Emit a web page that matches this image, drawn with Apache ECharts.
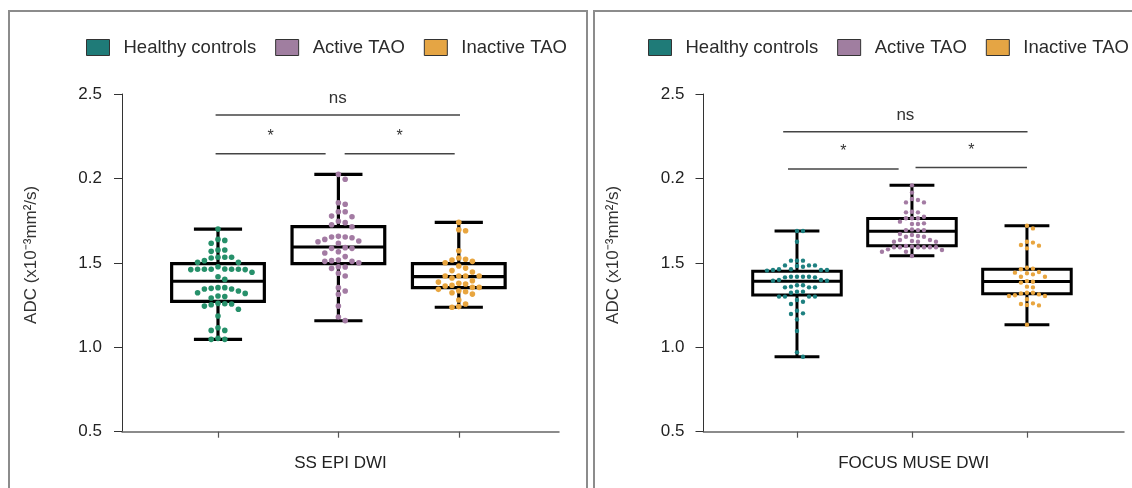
<!DOCTYPE html>
<html><head><meta charset="utf-8">
<script src="https://cdn.jsdelivr.net/npm/echarts@6/dist/echarts.min.js"></script>
<style>html,body{margin:0;padding:0;background:#fff}#c{width:1132px;height:488px}</style>
</head><body><div id="c"></div>
<script>
const FONT = 'Liberation Sans';
const groups = ['Healthy controls', 'Active TAO', 'Inactive TAO'];
const panelNames = ['SS EPI DWI', 'FOCUS MUSE DWI'];
const yTickLabels = ['0.5', '1.0', '1.5', '0.2', '2.5'];
const yAxisName = 'ADC (x10\u207B\u00B3mm\u00B2/s)';

// box statistics per group: [lower whisker, Q1, median, Q3, upper whisker]
const ssBoxes = [
  [1.047, 1.272, 1.391, 1.495, 1.700],
  [1.157, 1.495, 1.594, 1.714, 2.024],
  [1.237, 1.353, 1.418, 1.495, 1.740]
];
const museBoxes = [
  [0.944, 1.310, 1.391, 1.450, 1.689],
  [1.542, 1.602, 1.687, 1.762, 1.959],
  [1.134, 1.317, 1.389, 1.462, 1.720]
];

// individual ADC values
const ssHealthy = [1.700,1.639,1.633,1.616,1.576,1.576,1.568,1.533,1.533,1.533,1.529,1.513,1.503,1.503,1.477,1.464,1.462,1.462,1.462,1.462,1.462,1.460,1.460,1.444,1.418,1.402,1.353,1.353,1.349,1.345,1.345,1.333,1.323,1.319,1.304,1.300,1.292,1.260,1.258,1.256,1.252,1.244,1.225,1.185,1.116,1.100,1.100,1.053,1.047,1.047];
const ssActive = [2.024,1.995,1.856,1.847,1.803,1.803,1.777,1.773,1.746,1.738,1.726,1.714,1.657,1.653,1.653,1.649,1.639,1.629,1.625,1.616,1.590,1.586,1.586,1.566,1.558,1.537,1.517,1.513,1.509,1.509,1.501,1.477,1.475,1.467,1.438,1.422,1.353,1.333,1.314,1.244,1.179,1.158];
const ssInactive = [1.740,1.696,1.690,1.572,1.529,1.521,1.517,1.509,1.501,1.481,1.469,1.454,1.446,1.422,1.422,1.422,1.422,1.410,1.394,1.386,1.379,1.375,1.367,1.363,1.355,1.355,1.343,1.335,1.329,1.323,1.315,1.280,1.256,1.241,1.237];
const museHealthy = [1.689,1.689,1.625,1.513,1.513,1.513,1.485,1.485,1.485,1.481,1.477,1.462,1.462,1.458,1.458,1.458,1.454,1.418,1.418,1.418,1.418,1.414,1.414,1.398,1.398,1.394,1.394,1.367,1.367,1.359,1.355,1.355,1.355,1.329,1.329,1.323,1.300,1.300,1.300,1.300,1.280,1.270,1.256,1.217,1.201,1.197,1.165,1.096,0.970,0.944];
const museActive = [1.959,1.916,1.878,1.872,1.858,1.858,1.803,1.799,1.799,1.773,1.764,1.764,1.764,1.744,1.734,1.730,1.730,1.698,1.694,1.694,1.694,1.671,1.665,1.659,1.655,1.655,1.635,1.635,1.629,1.625,1.625,1.625,1.600,1.596,1.592,1.592,1.592,1.592,1.592,1.592,1.580,1.576,1.566,1.566,1.541];
const museInactive = [1.720,1.704,1.625,1.620,1.606,1.602,1.586,1.471,1.466,1.462,1.446,1.442,1.438,1.432,1.418,1.418,1.392,1.388,1.383,1.359,1.355,1.323,1.323,1.319,1.313,1.308,1.304,1.304,1.284,1.260,1.256,1.250,1.248,1.134];

// significance brackets: [from group pos, to group pos, y value, label]
const ssBrackets = [[0.98, 3.01, 2.376, 'ns'], [0.98, 1.894, 2.146, '*'], [2.052, 2.966, 2.146, '*']];
const museBrackets = [[0.88, 3.005, 2.277, 'ns'], [0.922, 1.884, 2.056, '*'], [2.031, 3.0, 2.064, '*']];

const legendColors = ['#1f7b78', '#a07ea0', '#e5a544'];
const dotColors = [['#26906a', '#a37ba3', '#e8a53f'], ['#1d8080', '#a37ba3', '#e8a53f']];

function swarm(pys, d, step) {
  const order = pys.map((y, i) => i).sort((a, b) => pys[a] - pys[b]);
  const placed = [];
  const off = new Array(pys.length).fill(0);
  for (const i of order) {
    for (let k = 0; k < 40; k++) {
      const cands = k === 0 ? [0] : [k * step, -k * step];
      let ok = null;
      for (const c of cands) {
        if (placed.every(p => (p.x - c) * (p.x - c) + (p.y - pys[i]) * (p.y - pys[i]) >= d * d)) { ok = c; break; }
      }
      if (ok !== null) { off[i] = ok; placed.push({x: ok, y: pys[i]}); break; }
    }
  }
  return off;
}

function dotSeries(gi, xc, values, color, r, step, d, name) {
  let cache = null;
  return {
    type: 'custom', name, xAxisIndex: gi, yAxisIndex: gi, z: 6, silent: true,
    itemStyle: {color},
    data: values.map(v => [xc, v]),
    renderItem(params, api) {
      if (params.dataIndex === 0 || !cache) {
        const pys = values.map(v => api.coord([xc, v])[1]);
        cache = swarm(pys, d, step);
      }
      const p = api.coord([api.value(0), api.value(1)]);
      return {type: 'circle', shape: {cx: p[0] + cache[params.dataIndex], cy: p[1], r}, style: {fill: color}};
    }
  };
}

function boxSeries(gi, boxes, bw, cw, lw) {
  return {
    type: 'custom', xAxisIndex: gi, yAxisIndex: gi, z: 3, silent: true,
    data: boxes.map((b, i) => [i + 1].concat(b)),
    renderItem(params, api) {
      const x = api.value(0);
      const lo = api.coord([x, api.value(1)]), q1 = api.coord([x, api.value(2)]),
            md = api.coord([x, api.value(3)]), q3 = api.coord([x, api.value(4)]),
            hi = api.coord([x, api.value(5)]);
      const hw = api.size([bw, 0])[0] / 2, hc = api.size([cw, 0])[0] / 2;
      const cx = lo[0];
      const st = {stroke: '#000', lineWidth: lw, fill: null};
      return {type: 'group', children: [
        {type: 'line', shape: {x1: cx, y1: hi[1], x2: cx, y2: q3[1]}, style: st},
        {type: 'line', shape: {x1: cx, y1: q1[1], x2: cx, y2: lo[1]}, style: st},
        {type: 'line', shape: {x1: cx - hc, y1: hi[1], x2: cx + hc, y2: hi[1]}, style: st},
        {type: 'line', shape: {x1: cx - hc, y1: lo[1], x2: cx + hc, y2: lo[1]}, style: st},
        {type: 'rect', shape: {x: cx - hw, y: q3[1], width: 2 * hw, height: q1[1] - q3[1]}, style: {stroke: '#000', lineWidth: lw, fill: '#fff'}},
        {type: 'line', shape: {x1: cx - hw, y1: md[1], x2: cx + hw, y2: md[1]}, style: st}
      ]};
    }
  };
}

function bracketSeries(gi, brackets) {
  return {
    type: 'custom', xAxisIndex: gi, yAxisIndex: gi, z: 4, silent: true,
    data: brackets.map(b => [b[0], b[1], b[2]]),
    renderItem(params, api) {
      const a = api.coord([api.value(0), api.value(2)]), b = api.coord([api.value(1), api.value(2)]);
      const label = brackets[params.dataIndex][3];
      return {type: 'group', children: [
        {type: 'line', shape: {x1: a[0], y1: a[1], x2: b[0], y2: b[1]}, style: {stroke: '#444', lineWidth: 1.5}},
        {type: 'text', style: {text: label, x: (a[0] + b[0]) / 2, y: a[1] - (label === 'ns' ? 8 : 9),
          align: 'center', verticalAlign: 'bottom', font: (label === 'ns' ? '17px ' : '16px ') + FONT, fill: '#333'}}
      ]};
    }
  };
}

const grids = [
  {left: 122, top: 94, width: 437, height: 337.7},
  {left: 703.5, top: 94, width: 420.5, height: 337.7}
];
const xRanges = [[0.2027, 3.8323], [0.187, 3.844]];
const labelMargins = [20, 19];

const chart = echarts.init(document.getElementById('c'), null, {renderer: 'canvas'});
const allData = [[ssHealthy, ssActive, ssInactive], [museHealthy, museActive, museInactive]];
const allBoxes = [ssBoxes, museBoxes];
const allBrackets = [ssBrackets, museBrackets];
const dotR = [2.8, 2.2];
const dotStep = [6.8, 6.0];
const dotSep = [6.2, 5.4];
const boxW = [0.77, 0.77];
const capW = [0.4, 0.39];
const boxLW = [3.2, 3];

const series = [];
for (let gi = 0; gi < 2; gi++) {
  series.push(boxSeries(gi, allBoxes[gi], boxW[gi], capW[gi], boxLW[gi]));
  series.push(bracketSeries(gi, allBrackets[gi]));
  for (let k = 0; k < 3; k++) {
    series.push(dotSeries(gi, k + 1, allData[gi][k], dotColors[gi][k], dotR[gi], dotStep[gi], dotSep[gi], groups[k]));
  }
}

const legendData = groups.map((g, i) => ({name: g, icon: 'rect', itemStyle: {color: legendColors[i], borderColor: '#333', borderWidth: 1}}));

chart.setOption({
  animation: false,
  backgroundColor: '#fff',
  textStyle: {fontFamily: FONT},
  graphic: [
    {type: 'rect', silent: true, shape: {x: 9, y: 11, width: 578, height: 520}, style: {fill: 'none', stroke: '#8c8c8c', lineWidth: 2}},
    {type: 'rect', silent: true, shape: {x: 594, y: 11, width: 600, height: 520}, style: {fill: 'none', stroke: '#8c8c8c', lineWidth: 2}}
  ],
  legend: [86, 648].map(l => ({
    left: l, top: 38, padding: 0, itemWidth: 23, itemHeight: 16, itemGap: 19, selectedMode: false,
    textStyle: {fontSize: 18.5, color: '#2b2b2b', fontFamily: FONT, padding: [0, 0, 0, 9]},
    data: legendData
  })),
  grid: grids,
  xAxis: [0, 1].map(gi => ({
    gridIndex: gi, type: 'value', min: xRanges[gi][0], max: xRanges[gi][1],
    name: panelNames[gi], nameLocation: 'middle', nameGap: 23,
    nameTextStyle: {fontSize: 17, color: '#222', fontFamily: FONT},
    axisLine: {show: true, onZero: false, lineStyle: {color: '#666', width: 1.5}},
    axisTick: {show: true, customValues: [1, 2, 3], length: 6, lineStyle: {color: '#555', width: 1.2}},
    axisLabel: {show: false},
    splitLine: {show: false}
  })),
  yAxis: [0, 1].map(gi => ({
    gridIndex: gi, type: 'value', min: 0.5, max: 2.5, interval: 0.5,
    name: yAxisName, nameLocation: 'middle', nameGap: 82, nameRotate: 90,
    nameTextStyle: {fontSize: 17, color: '#333', fontFamily: FONT, padding: [0, 0, 0, 16]},
    axisLine: {show: true, lineStyle: {color: '#333', width: 1}},
    axisTick: {show: true, length: 8, lineStyle: {color: '#333'}},
    axisLabel: {margin: labelMargins[gi], fontSize: 17, color: '#222', fontFamily: FONT,
      formatter: v => yTickLabels[Math.round((v - 0.5) / 0.5)]},
    splitLine: {show: false}
  })),
  series
});
</script></body></html>
